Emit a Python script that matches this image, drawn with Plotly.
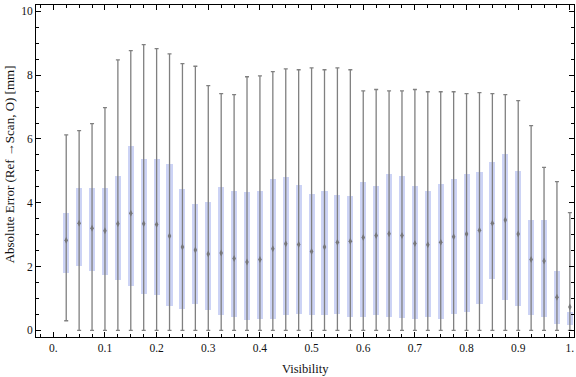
import plotly.graph_objects as go

visibility = [0.025 * k for k in range(1, 41)]

whisker_low = [0.30] + [0.0] * 39
q1 = [1.80, 2.02, 1.86, 1.73, 1.58, 1.39, 1.14, 1.11, 0.76, 0.67,
      0.82, 0.64, 0.48, 0.42, 0.32, 0.37, 0.36, 0.49, 0.51, 0.47,
      0.47, 0.50, 0.41, 0.41, 0.47, 0.41, 0.39, 0.36, 0.42, 0.36,
      0.51, 0.58, 0.82, 1.61, 0.95, 0.76, 0.48, 0.42, 0.20, 0.17]
q3 = [3.69, 4.47, 4.47, 4.45, 4.83, 5.77, 5.38, 5.38, 5.20, 4.42,
      3.95, 4.01, 4.48, 4.36, 4.33, 4.36, 4.73, 4.80, 4.55, 4.26,
      4.36, 4.23, 4.20, 4.64, 4.51, 4.89, 4.83, 4.51, 4.36, 4.58,
      4.73, 4.89, 4.95, 5.27, 5.52, 4.98, 3.45, 3.45, 1.85, 0.56]
center = [2.82, 3.36, 3.20, 3.12, 3.34, 3.67, 3.34, 3.32, 2.96, 2.61,
          2.52, 2.39, 2.42, 2.25, 2.14, 2.22, 2.56, 2.71, 2.69, 2.47,
          2.61, 2.76, 2.79, 2.91, 2.97, 3.03, 2.97, 2.72, 2.68, 2.76,
          2.93, 3.02, 3.14, 3.36, 3.46, 3.02, 2.22, 2.17, 1.04, 0.73]
whisker_high = [6.13, 6.26, 6.48, 6.98, 8.48, 8.77, 8.96, 8.83, 8.67, 8.36,
                8.28, 7.67, 7.42, 7.39, 7.95, 7.98, 8.11, 8.20, 8.17, 8.23,
                8.17, 8.23, 8.17, 7.51, 7.55, 7.51, 7.51, 7.55, 7.48, 7.48,
                7.48, 7.42, 7.45, 7.42, 7.39, 7.20, 6.42, 5.11, 4.66, 3.69]

x_tickvals = [0.1 * i for i in range(11)]
x_ticktext = ["0.", "0.1", "0.2", "0.3", "0.4", "0.5", "0.6", "0.7", "0.8", "0.9", "1."]
y_tickvals = [0, 2, 4, 6, 8, 10]
y_ticktext = ["0", "2", "4", "6", "8", "10"]

gray = "#808080"
box_color = "#ccd3f5"

fig = go.Figure()

# whiskers (drawn first, behind boxes)
fig.add_trace(go.Scatter(
    x=visibility, y=whisker_low, mode="markers",
    marker=dict(size=1, opacity=0),
    error_y=dict(type="data", symmetric=False,
                 array=[h - l for h, l in zip(whisker_high, whisker_low)],
                 arrayminus=[0] * len(visibility),
                 color=gray, thickness=1.3, width=2),
    hoverinfo="skip", showlegend=False, cliponaxis=True))

# boxes
fig.add_trace(go.Bar(
    x=visibility, y=[b - a for a, b in zip(q1, q3)], base=q1,
    width=0.0118, marker=dict(color=box_color, line=dict(width=0)),
    showlegend=False))

# center markers
fig.add_trace(go.Scatter(
    x=visibility, y=center, mode="markers",
    marker=dict(symbol="diamond-tall", size=5, color="#777777"),
    showlegend=False))

font = dict(family="Liberation Serif, Times New Roman, serif", size=11, color="#111")

fig.update_layout(
    width=576, height=377,
    margin=dict(l=36, r=2, t=5, b=40, autoexpand=False),
    plot_bgcolor="white", paper_bgcolor="white",
    font=font,
    bargap=0,
    xaxis=dict(
        range=[-0.0335, 1.008], automargin=False,
        tickvals=x_tickvals, ticktext=x_ticktext,
        ticks="inside", ticklen=5, tickwidth=1, tickcolor="black",
        minor=dict(dtick=0.025, tick0=0, ticks="inside", ticklen=3, tickcolor="black"),
        showline=True, linecolor="black", linewidth=1, mirror="ticks",
        showgrid=False, zeroline=False,
        tickfont=dict(size=11.5),
    ),
    yaxis=dict(
        range=[-0.21, 10.2], automargin=False,
        tickvals=y_tickvals, ticktext=y_ticktext,
        ticks="inside", ticklen=5, tickwidth=1, tickcolor="black",
        minor=dict(dtick=0.5, tick0=0, ticks="inside", ticklen=3, tickcolor="black"),
        showline=True, linecolor="black", linewidth=1, mirror="ticks",
        showgrid=False, zeroline=False,
        tickfont=dict(size=11.5),
    ),
    annotations=[
        dict(text="Visibility", xref="paper", yref="paper", x=0.5, y=0,
             yshift=-32, xanchor="center", yanchor="middle", showarrow=False,
             font=dict(size=12.5)),
        dict(text="Absolute Error (Ref →Scan, O) [mm]", xref="paper", yref="paper",
             x=0, y=0.52, xshift=-27, xanchor="center", yanchor="middle",
             textangle=-90, showarrow=False, font=dict(size=13)),
    ],
)

fig.write_html("out.html", config={"displayModeBar": False},
               post_script="document.body.style.margin='0';document.body.style.padding='0';")
